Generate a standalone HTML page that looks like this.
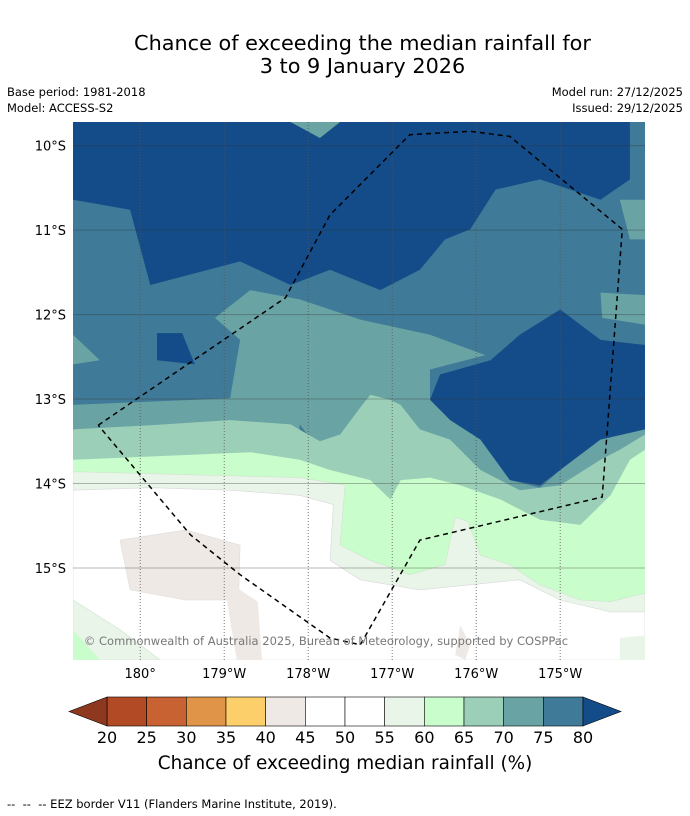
<!DOCTYPE html>
<html><head><meta charset="utf-8"><style>
body{margin:0;background:#fff;font-family:"DejaVu Sans","Liberation Sans",sans-serif;}
#wrap{position:relative;width:690px;height:816px;overflow:hidden;}
.t{position:absolute;white-space:nowrap;color:#000;}
svg text{font-family:"DejaVu Sans","Liberation Sans",sans-serif;}
</style></head><body>
<div id="wrap">
<div class="t" style="left:0;width:725px;text-align:center;top:32px;font-size:20.8px;line-height:23px;">Chance of exceeding the median rainfall for<br>3 to 9 January 2026</div>
<div class="t" style="left:7px;top:85px;font-size:11.5px;">Base period: 1981-2018</div>
<div class="t" style="left:7px;top:101px;font-size:11.5px;">Model: ACCESS-S2</div>
<div class="t" style="right:7px;top:85px;font-size:11.5px;">Model run: 27/12/2025</div>
<div class="t" style="right:7px;top:101px;font-size:11.5px;">Issued: 29/12/2025</div>
<svg id="svg" width="690" height="816" style="position:absolute;left:0;top:0"></svg>
<div class="t" style="left:0;width:690px;text-align:center;top:753px;font-size:18.4px;">Chance of exceeding median rainfall (%)</div>
<div class="t" style="left:7px;top:797px;font-size:11.5px;">-- &nbsp;-- &nbsp;-- EEZ border V11 (Flanders Marine Institute, 2019).</div>
</div>
<script>
// map extent / axes
const lonMin=179.20, lonMax=186.01, latMin=9.72, latMax=16.09;
const lonTicks=[180,181,182,183,184,185];
const lonLabels=["180°","179°W","178°W","177°W","176°W","175°W"];
const latTicks=[10,11,12,13,14,15];
const latLabels=["10°S","11°S","12°S","13°S","14°S","15°S"];
// colorbar
const cbLevels=[20,25,30,35,40,45,50,55,60,65,70,75,80];
const cbColors=["#b34a26","#c96232","#e09448","#fdcf6a","#efe9e5","#ffffff","#ffffff","#eaf5ea","#c9fdcb","#9bcfb8","#6aa3a3","#3f7a98"];
const cbLow="#8f3820", cbHigh="#134c88";
// contour regions [lon(°E, >180 = W), lat(°S)]
const region75=[[179.20,10.64],[179.88,10.76],[180.12,11.65],[181.19,11.37],[181.79,11.65],[182.26,11.47],[182.86,11.71],[183.33,11.47],[183.63,11.11],[183.93,10.99],[184.23,10.52],[184.76,10.40],[185.48,10.64],[185.83,10.40],[185.83,9.72],[186.01,9.72],[186.01,16.09],[179.20,16.09]];
const dark1=[[183.45,13.01],[183.57,12.71],[184.17,12.54],[184.52,12.24],[185.00,11.94],[185.48,12.30],[186.01,12.36],[186.01,13.36],[185.48,13.48],[185.00,13.84],[184.76,14.02],[184.40,13.96],[184.05,13.48],[183.69,13.25]];
const dark2=[[180.20,12.22],[180.50,12.22],[180.65,12.59],[180.20,12.54]];
const region70=[[179.20,13.07],[181.07,12.99],[181.19,12.30],[180.89,12.04],[181.31,11.71],[181.90,11.82],[182.62,12.06],[183.45,12.24],[184.11,12.48],[183.45,12.65],[183.45,13.01],[183.69,13.25],[184.05,13.48],[184.40,13.96],[184.76,14.05],[185.00,13.84],[185.48,13.48],[186.01,13.36],[186.01,16.09],[179.20,16.09]];
const teal2=[[185.71,10.64],[186.01,10.64],[186.01,11.11],[185.83,11.11]];
const teal3=[[185.48,11.74],[186.01,11.77],[186.01,12.12],[185.50,12.04]];
const teal4=[[179.20,12.24],[179.52,12.54],[179.20,12.59]];
const teal5=[[181.79,9.72],[182.38,9.72],[182.14,9.91]];
const region65=[[179.20,13.36],[180.12,13.31],[181.07,13.25],[181.79,13.30],[182.14,13.50],[182.38,13.42],[182.62,13.10],[182.74,12.95],[182.98,13.01],[183.10,13.07],[183.33,13.36],[183.69,13.48],[184.05,13.84],[184.52,14.08],[185.00,14.02],[185.48,13.72],[185.71,13.60],[186.01,13.42],[186.01,16.09],[179.20,16.09]];
const blueTri=[[181.90,13.30],[182.05,13.50],[181.88,13.56]];
const region60=[[179.20,13.72],[180.12,13.68],[181.31,13.63],[181.90,13.72],[182.26,13.84],[182.74,13.96],[182.98,14.19],[183.10,13.96],[183.45,13.93],[183.81,14.02],[184.29,14.19],[184.76,14.43],[185.24,14.49],[185.60,14.14],[185.83,13.72],[186.01,13.60],[186.01,16.09],[179.20,16.09]];
const region55=[[179.20,13.86],[181.90,13.93],[182.44,14.02],[182.38,14.73],[182.74,14.91],[183.21,15.08],[183.63,14.96],[183.75,14.40],[183.90,14.45],[184.05,14.85],[184.40,14.96],[184.76,15.20],[185.24,15.38],[185.60,15.40],[186.01,15.30],[186.01,16.09],[179.20,16.09]];
const region50=[[179.20,14.08],[180.12,14.05],[181.07,14.08],[181.90,14.14],[182.30,14.25],[182.26,14.91],[182.62,15.14],[183.33,15.26],[183.93,15.20],[184.52,15.14],[185.00,15.38],[185.60,15.52],[186.01,15.52],[186.01,16.09],[179.20,16.09]];
const lg2=[[179.20,15.38],[179.76,15.73],[180.24,16.09],[179.20,16.09]];
const gr2=[[179.20,15.73],[179.52,16.09],[179.20,16.09]];
const lg3=[[185.71,15.83],[186.01,15.80],[186.01,16.09],[185.71,16.09]];
const beige1=[[179.76,14.67],[180.54,14.55],[181.19,14.73],[181.17,15.38],[180.54,15.38],[179.88,15.26]];
const beige2=[[181.01,15.14],[181.40,15.40],[181.45,16.09],[181.15,16.09],[181.05,15.50]];
const beige3=[[183.81,15.68],[183.93,15.90],[183.87,16.09],[183.75,16.03]];
const eez=[[179.50,13.31],[181.73,11.80],[182.26,10.82],[183.21,9.87],[183.93,9.83],[184.40,9.89],[185.74,10.99],[185.50,14.16],[183.33,14.67],[182.62,15.91],[182.26,15.83],[181.19,15.08],[180.60,14.61],[179.50,13.31]];

const X=l=>73+(l-lonMin)/(lonMax-lonMin)*572;
const Y=l=>122+(l-latMin)/(latMax-latMin)*538;
const svg=document.getElementById('svg');
const NS='http://www.w3.org/2000/svg';
function mk(tag,attrs,parent){const e=document.createElementNS(NS,tag);for(const k in attrs)e.setAttribute(k,attrs[k]);(parent||svg).appendChild(e);return e;}
const clip=mk('clipPath',{id:'mc'});mk('rect',{x:73,y:122,width:572,height:538},clip);
const g=mk('g',{'clip-path':'url(#mc)'});


const bg=mk('rect',{x:73,y:122,width:572,height:538,fill:cbHigh},g);


function poly(pts,fill,name,stroke){const p=mk('polygon',{points:pts.map(q=>X(q[0]).toFixed(1)+','+Y(q[1]).toFixed(1)).join(' '),fill:fill,stroke:stroke||'none','stroke-width':0.6},g);

return p;}
poly(region75,cbColors[11],'region-75-80');
poly(dark1,cbHigh,'region-above-80-east');
poly(dark2,cbHigh,'region-above-80-west');
poly(region70,cbColors[10],'region-70-75');
poly(teal2,cbColors[10],'region-70-75-ne');
poly(teal3,cbColors[10],'region-70-75-e');
poly(teal4,cbColors[10],'region-70-75-w');
poly(teal5,cbColors[10],'region-70-75-n');
poly(blueTri,cbColors[11],'region-75-80-small');
poly(region65,cbColors[9],'region-65-70');
poly(region60,cbColors[8],'region-60-65');
poly(region55,cbColors[7],'region-55-60','#cfe3cf');
poly(region50,'#ffffff','region-45-55','#d8d8d8');
poly(lg2,cbColors[7],'region-55-60-sw','#cfe3cf');
poly(gr2,cbColors[8],'region-60-65-sw');
poly(lg3,cbColors[7],'region-55-60-se');
poly(beige1,cbColors[4],'region-40-45-a','#ddd');
poly(beige2,cbColors[4],'region-40-45-b');
poly(beige3,cbColors[4],'region-40-45-c');
// grid
lonTicks.forEach((t,i)=>{const l=mk('line',{x1:X(t),x2:X(t),y1:122,y2:660,stroke:'#555','stroke-width':0.8,'stroke-dasharray':'1,2'},g);


const tx=mk('text',{x:X(t),y:678,'font-size':13,'text-anchor':'middle'});tx.textContent=lonLabels[i];

});
latTicks.forEach((t,i)=>{const l=mk('line',{x1:73,x2:645,y1:Y(t),y2:Y(t),stroke:'#333','stroke-opacity':0.35,'stroke-width':1},g);


const tx=mk('text',{x:66,y:Y(t)+5,'font-size':13,'text-anchor':'end'});tx.textContent=latLabels[i];

});
const ez=mk('polyline',{points:eez.map(q=>X(q[0]).toFixed(1)+','+Y(q[1]).toFixed(1)).join(' '),fill:'none',stroke:'#000','stroke-width':1.5,'stroke-dasharray':'5,4'},g);


const cp=mk('text',{x:326,y:645,'font-size':11.5,'text-anchor':'middle',fill:'#777'},g);cp.textContent='© Commonwealth of Australia 2025, Bureau of Meteorology, supported by COSPPac';


// colorbar
const cbX=v=>107+(v-20)/60*476;
const cy=697,ch=29;
cbColors.forEach((c,i)=>{const r=mk('rect',{x:cbX(cbLevels[i]),y:cy,width:cbX(cbLevels[i+1])-cbX(cbLevels[i]),height:ch,fill:c,stroke:'#000','stroke-width':0.6});

});
const lt=mk('polygon',{points:`${cbX(20)},${cy} ${cbX(20)-38},${cy+ch/2} ${cbX(20)},${cy+ch}`,fill:cbLow,stroke:'#000','stroke-width':0.6});


const rt=mk('polygon',{points:`${cbX(80)},${cy} ${cbX(80)+38},${cy+ch/2} ${cbX(80)},${cy+ch}`,fill:cbHigh,stroke:'#000','stroke-width':0.6});


cbLevels.forEach(v=>{const t=mk('text',{x:cbX(v),y:743,'font-size':16,'text-anchor':'middle'});t.textContent=v;

});
</script>
</body></html>
